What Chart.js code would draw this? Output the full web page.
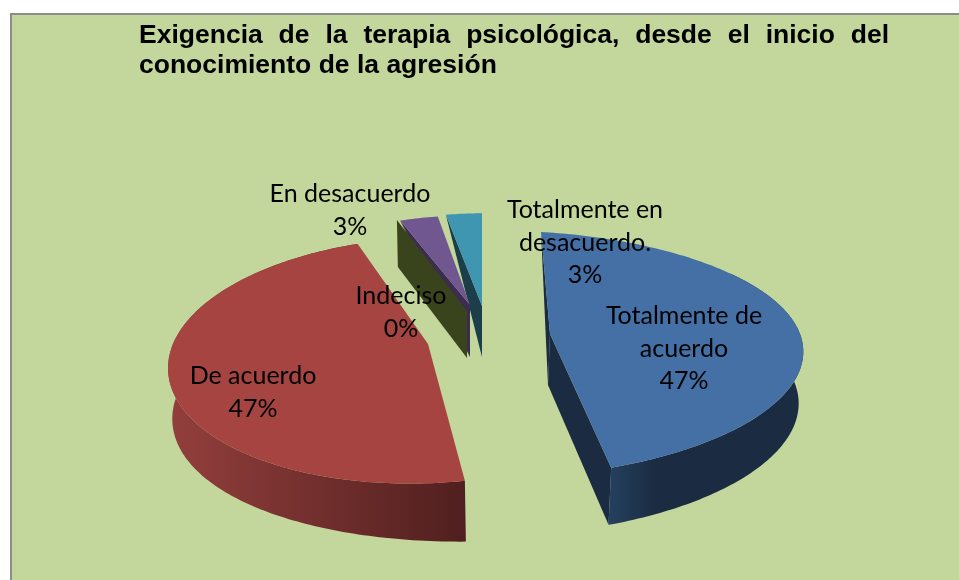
<!DOCTYPE html>
<html>
<head>
<meta charset="utf-8">
<style>html,body{margin:0;padding:0;background:#fff}canvas{display:block}</style>
<script src="https://cdn.jsdelivr.net/npm/chart.js@4"></script>
</head>
<body>
<canvas id="c" width="959" height="580"></canvas>
<script>
const categories = ["Totalmente de acuerdo", "De acuerdo", "Indeciso", "En desacuerdo", "Totalmente en desacuerdo."];
const values = [47, 47, 0, 3, 3];
const labelLines = [["Totalmente de", "acuerdo"], ["De acuerdo"], ["Indeciso"], ["En desacuerdo"], ["Totalmente en", "desacuerdo."]];
const labelCentres = [[684, 316], [253, 376], [401, 296], [350, 194], [585, 210]];
const topColours = ["#4570a6", "#a54441", "#3a441c", "#71578f", "#3f96b0"];
const wallColours = ["#1a2b42", "#6e2d2b", "#3a441c", "#3c2c50", "#1c3e4a"];
const titleLine1 = "Exigencia de la terapia psicológica, desde el inicio del";
const titleLine2 = "conocimiento de la agresión";

/* perspective parameters of each exploded slice: top rim and bottom rim */
const topRims = [
  {ax:550, ay:334, R:290, Ry:118.5, k:.162, m:.16, s:3.8, e:-5.7},
  {ax:428, ay:344, R:255, Ry:121, k:.133, m:0, s:-16, e:0},
  {ax:467, ay:311, R:214, Ry:110, k:.133, m:0, s:0, e:0},
  {ax:470, ay:305, R:231, Ry:102, k:.133, m:0, s:-7, e:0},
  {ax:482, ay:306, R:218, Ry:105, k:.133, m:0, s:0, e:0}
];
const bottomRims = [
  {ax:548, ay:385, R:287, Ry:124, k:.162, m:.16, s:3.8, e:-5.7},
  {ax:430, ay:395, R:296, Ry:125, k:.133, m:-.17, s:-16, e:-12},
  {ax:467, ay:358, R:211, Ry:110, k:.133, m:0, s:0, e:0},
  {ax:470, ay:357, R:231, Ry:102, k:.133, m:0, s:-7, e:0},
  {ax:482, ay:357, R:218, Ry:105, k:.133, m:0, s:0, e:0}
];
const drawOrder = [4, 3, 2, 0, 1];

function project(p, a) {
  const Y = Math.sin(a), X = Math.cos(a);
  const w = 1 - p.k * Y + p.m * X;
  return [p.ax + (p.R * X + p.s * Y) / w + p.e * Y * Y, p.ay + p.Ry * Y / w];
}
function arcPoints(p, a0, a1) {
  const pts = [], n = Math.max(2, Math.ceil(Math.abs(a1 - a0) * 60));
  for (let i = 0; i <= n; i++) pts.push(project(p, a0 + (a1 - a0) * i / n));
  return pts;
}
function fillPoly(ctx, pts, fill) {
  ctx.beginPath();
  pts.forEach((q, i) => i ? ctx.lineTo(q[0], q[1]) : ctx.moveTo(q[0], q[1]));
  ctx.closePath();
  ctx.fillStyle = fill;
  ctx.fill();
}
function drawSlice(ctx, i, arc) {
  const t = topRims[i], b = bottomRims[i], a0 = arc.startAngle, a1 = arc.endAngle;
  const ta = [t.ax, t.ay], ba = [b.ax, b.ay];
  if (i === 2) { /* zero-value slice: only its cut face shows */
    fillPoly(ctx, [project(t, a0), ta, ba, project(b, a0)], wallColours[i]);
    return;
  }
  if (i === 0) {
    const wallStart = a0 + 0.9;
    fillPoly(ctx, [project(t, a0), ta, ba], wallColours[i]);
    fillPoly(ctx, [ta, project(t, a1), project(b, a1), ba], wallColours[i]);
    const g = ctx.createLinearGradient(project(t, a1)[0] - 3, 0, project(t, a1)[0] + 45, 0);
    g.addColorStop(0, "#25415f"); g.addColorStop(1, wallColours[i]);
    fillPoly(ctx, arcPoints(t, wallStart, a1).concat(arcPoints(b, a1, wallStart)), g);
  }
  if (i === 1) {
    const g = ctx.createLinearGradient(168, 0, 467, 0);
    g.addColorStop(0, "#933f3c"); g.addColorStop(1, "#501f1f");
    fillPoly(ctx, arcPoints(t, a0, a1).concat(arcPoints(b, a1, a0)), g);
  }
  if (i === 4) fillPoly(ctx, [project(t, a0), ta, ba], wallColours[i]);
  fillPoly(ctx, [ta].concat(arcPoints(t, a0, a1)), topColours[i]);
}

const exploded3D = {
  id: "exploded3D",
  beforeDraw(chart) {
    const ctx = chart.ctx;
    ctx.save();
    ctx.fillStyle = "#ffffff"; ctx.fillRect(0, 0, 959, 580);
    ctx.fillStyle = "#c3d69b"; ctx.fillRect(10, 13, 949, 567);
    ctx.fillStyle = "#8c8c8c"; ctx.fillRect(10, 13, 949, 2); ctx.fillRect(10, 13, 2, 567);
    ctx.restore();
  },
  afterLayout(chart) {
    const tb = chart.titleBlock;
    if (tb && !tb._wrapped) {
      const draw = tb.draw.bind(tb);
      tb.draw = function () {
        const ctx = chart.ctx;
        ctx.save();
        ctx.font = "bold 26.5px 'Liberation Sans'";
        const gaps = titleLine1.split(" ").length - 1;
        const extra = (750 - ctx.measureText(titleLine1).width) / gaps;
        ctx.wordSpacing = extra + "px";
        draw();
        ctx.restore();
      };
      tb._wrapped = true;
    }
  },
  beforeDatasetDraw(chart, args) {
    const ctx = chart.ctx, arcs = args.meta.data;
    ctx.save();
    drawOrder.forEach(i => {
      if (i === 3) {
        const t = topRims[3], a = arcs[3];
        fillPoly(ctx, [project(t, a.startAngle), [t.ax, t.ay], [bottomRims[3].ax, bottomRims[3].ay]], wallColours[3]);
        drawSlice(ctx, 2, arcs[2]);
        fillPoly(ctx, [[t.ax, t.ay]].concat(arcPoints(t, a.startAngle, a.endAngle)), topColours[3]);
      } else if (i !== 2) {
        drawSlice(ctx, i, arcs[i]);
      }
    });
    ctx.restore();
    return false;
  },
  afterDatasetsDraw(chart) {
    const ctx = chart.ctx, lh = 32.7;
    ctx.save();
    ctx.font = "25px Lato";
    ctx.fillStyle = "#000";
    ctx.textAlign = "center";
    ctx.textBaseline = "middle";
    labelLines.forEach((lines, i) => {
      const all = lines.concat([values[i] + "%"]);
      all.forEach((s, j) => ctx.fillText(s, labelCentres[i][0], labelCentres[i][1] + j * lh));
    });
    ctx.restore();
  }
};

new Chart(document.getElementById("c"), {
  type: "pie",
  data: { labels: categories, datasets: [{ data: values, backgroundColor: topColours, borderWidth: 0 }] },
  options: {
    responsive: false,
    animation: false,
    layout: { padding: { left: 139, top: 19, right: 60, bottom: 10 } },
    plugins: {
      legend: { display: false },
      tooltip: { enabled: false },
      title: { display: true, text: titleLine1, align: "start", color: "#000",
               font: { family: "'Liberation Sans'", size: 26.5, weight: "bold", lineHeight: 1.1 }, padding: { top: 2, bottom: 1 } },
      subtitle: { display: true, text: titleLine2, align: "start", color: "#000",
               font: { family: "'Liberation Sans'", size: 26.5, weight: "bold", lineHeight: 1.1 }, padding: { top: 0, bottom: 0 } }
    }
  },
  plugins: [exploded3D]
});
</script>
</body>
</html>
